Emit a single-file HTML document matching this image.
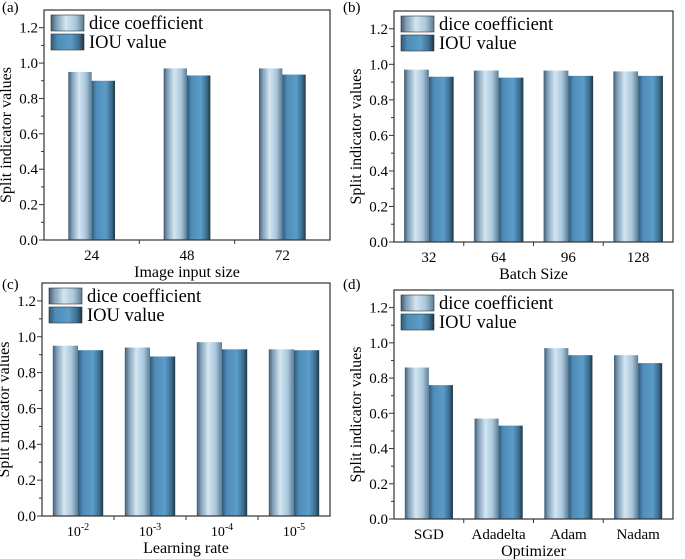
<!DOCTYPE html>
<html><head><meta charset="utf-8"><style>
html,body{margin:0;padding:0;background:#fff;}
svg{display:block;}
text{font-family:"Liberation Serif","DejaVu Serif",serif;}
</style></head><body>
<svg id="chart" width="685" height="559" viewBox="0 0 685 559" xmlns="http://www.w3.org/2000/svg" font-family="Liberation Serif, serif">
<defs>
<linearGradient id="gDice" x1="0" x2="1" y1="0" y2="0">
<stop offset="0" stop-color="#3d5b72"/><stop offset="0.15" stop-color="#7d9cb3"/><stop offset="0.45" stop-color="#d3e6f3"/><stop offset="0.75" stop-color="#a9c6da"/><stop offset="1" stop-color="#5b7c94"/>
</linearGradient>
<linearGradient id="gIou" x1="0" x2="1" y1="0" y2="0">
<stop offset="0" stop-color="#2c5a7a"/><stop offset="0.2" stop-color="#4f8db8"/><stop offset="0.6" stop-color="#5b9cc8"/><stop offset="0.85" stop-color="#3c6d8e"/><stop offset="1" stop-color="#1f3445"/>
</linearGradient>
</defs>
</svg>
<script>
const catsA=["24","48","72"];
const diceA=[0.95,0.97,0.97];
const iouA=[0.90,0.93,0.935];
const catsB=["32","64","96","128"];
const diceB=[0.97,0.965,0.965,0.96];
const iouB=[0.93,0.925,0.935,0.935];
const catsC=["10-2","10-3","10-4","10-5"];
const diceC=[0.95,0.94,0.97,0.93];
const iouC=[0.925,0.89,0.93,0.925];
const catsD=["SGD","Adadelta","Adam","Nadam"];
const diceD=[0.86,0.57,0.97,0.93];
const iouD=[0.76,0.53,0.93,0.885];
const yTicks=["0.0","0.2","0.4","0.6","0.8","1.0","1.2"];
const yMax=1.3;

const svg=document.getElementById('chart');
const NS="http://www.w3.org/2000/svg";
const FONT='"Liberation Serif", "DejaVu Serif", serif';
function mk(tag,attrs,parent){const e=document.createElementNS(NS,tag);for(const k in attrs)e.setAttribute(k,attrs[k]);if(tag==='text')e.style.fontFamily=FONT;(parent||svg).appendChild(e);return e;}

const panels=[
 {id:"a",cats:catsA,dice:diceA,iou:iouA,x0:44,x1:330,top:10,zero:240,bw:0.245,title:"Image input size",lbl:[2,12]},
 {id:"b",cats:catsB,dice:diceB,iou:iouB,x0:394,x1:673,top:11,zero:242,bw:0.355,title:"Batch Size",lbl:[343,12]},
 {id:"c",cats:catsC,dice:diceC,iou:iouC,x0:42,x1:330,top:283,zero:516,bw:0.35,title:"Learning rate",lbl:[2,289]},
 {id:"d",cats:catsD,dice:diceD,iou:iouD,x0:394,x1:673,top:290,zero:519,bw:0.345,title:"Optimizer",lbl:[343,289]}
];

panels.forEach(p=>{
 const g=mk('g',{});
 
 
 const unit=(p.zero-p.top)/yMax;
 const y=v=>p.zero-v*unit;
 const step=(p.x1-p.x0)/p.cats.length;
 const bw=step*p.bw;
 const xc=i=>p.x0+step*(i+0.5);
 p.cats.forEach((c,i)=>{
  const d=mk('rect',{x:xc(i)-bw,y:y(p.dice[i]),width:bw,height:p.zero-y(p.dice[i]),fill:"url(#gDice)"},g);
  
  
  const u=mk('rect',{x:xc(i),y:y(p.iou[i]),width:bw,height:p.zero-y(p.iou[i]),fill:"url(#gIou)"},g);
  
  
  let t;
  if(c.startsWith("10-")){
   t=mk('text',{x:xc(i),y:p.zero+20,'text-anchor':'middle','font-size':14},g);
   t.innerHTML='10<tspan dy="-6" font-size="10">-'+c.slice(3)+'</tspan>';
  } else {
   t=mk('text',{x:xc(i),y:p.zero+20,'text-anchor':'middle','font-size':15},g);
   t.textContent=c;
  }
  
  
  if(i>0) mk('line',{x1:p.x0+step*i,x2:p.x0+step*i,y1:p.zero,y2:p.zero+4,stroke:"#333","stroke-width":1},g);
 });
 const fr=mk('rect',{x:p.x0,y:p.top,width:p.x1-p.x0,height:p.zero-p.top,fill:"none",stroke:"#333","stroke-width":1.2},g);
 
 
 yTicks.forEach((lab,k)=>{
  const v=parseFloat(lab);
  mk('line',{x1:p.x0-5,x2:p.x0,y1:y(v),y2:y(v),stroke:"#333","stroke-width":1},g);
  if(v+0.1<yMax) mk('line',{x1:p.x0-3,x2:p.x0,y1:y(v+0.1),y2:y(v+0.1),stroke:"#333","stroke-width":1},g);
  const t=mk('text',{x:p.x0-6,y:y(v)+5,'text-anchor':'end','font-size':15},g);
  t.textContent=lab;
  
  
 });
 const cy=(p.top+p.zero)/2+10;
 const yt=mk('text',{x:p.x0-33,y:cy,'text-anchor':'middle','font-size':16,transform:`rotate(-90 ${p.x0-33} ${cy})`},g);
 yt.textContent="Split indicator values";
 
 
 const xt=mk('text',{x:(p.x0+p.x1)/2,y:p.zero+37,'text-anchor':'middle','font-size':16},g);
 xt.textContent=p.title;
 
 
 const pl=mk('text',{x:p.lbl[0],y:p.lbl[1],'font-size':15},g);
 pl.textContent="("+p.id+")";
 
 
 const lx=p.x0+7, ly=p.top+5;
 const l1=mk('rect',{x:lx,y:ly,width:33,height:16,fill:"url(#gDice)",stroke:"#333","stroke-width":0.6},g);
 
 
 const t1=mk('text',{x:lx+38,y:ly+14,'font-size':18.5},g);
 t1.textContent="dice coefficient";
 
 
 const l2=mk('rect',{x:lx,y:ly+19,width:33,height:16,fill:"url(#gIou)",stroke:"#333","stroke-width":0.6},g);
 
 
 const t2=mk('text',{x:lx+38,y:ly+33,'font-size':18.5},g);
 t2.textContent="IOU value";
 
 
});
</script>
</body></html>
